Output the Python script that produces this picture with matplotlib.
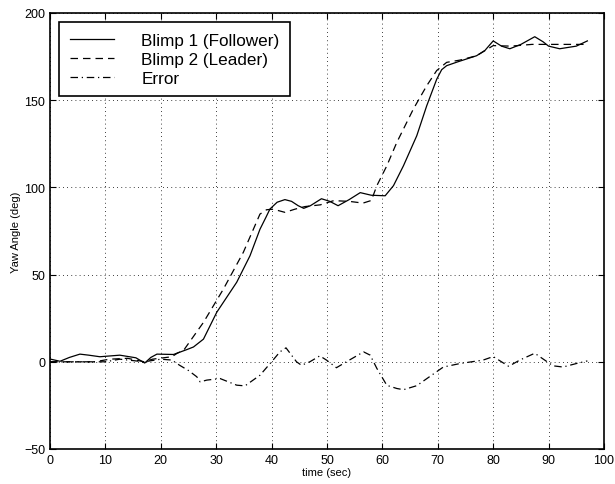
import matplotlib
matplotlib.use("Agg")
import matplotlib.pyplot as plt

plt.rcParams['font.family'] = ['Liberation Sans', 'DejaVu Sans']

# Blimp 1 (Follower)
follower_t = [0, 1.8, 3.5, 5.4, 7, 9, 12.6, 15.5, 17.1, 18.2, 19.3, 22.3, 24.7, 25.9, 27.7, 30.1, 33.7, 36.1,
              37.9, 39.0, 39.7, 41.0, 42.4, 43.6, 44.8, 45.8, 47, 49, 50.5, 52, 54, 56, 58,
              60.5, 62.0, 63.8, 66.2, 68.0, 69.8, 70.7, 71.6, 73.6, 77, 78.5, 80, 81.5, 83, 85, 87.5,
              89, 90, 92, 95, 97]
follower_y = [1.6, 0.3, 2.5, 4.4, 3.8, 2.9, 3.8, 2.3, -0.7, 2.5, 4.4, 4.2, 7, 8.5, 13, 28.4, 45.6, 60.8,
              76, 83, 87.6, 91.5, 93, 92, 89.5, 88, 89.5, 93.5, 92, 89.5, 93, 97, 95.5,
              95.2, 101, 112.4, 129.6, 146.8, 162, 167.5, 169.8, 172, 175.5, 178.5, 184, 181, 179.5, 182, 186.4,
              183.5, 181, 179.5, 181, 184]

# Blimp 2 (Leader)
leader_t = [0, 5, 8, 10.8, 14, 17, 18.5, 22, 23.0, 24.1, 27.7, 31.3, 34.9, 37.9, 39.1, 40.3,
            42.4, 44.2, 46, 48.8, 51.2, 54, 56.5, 58, 59.0, 60.8, 62.6, 65.6, 68, 69.8,
            71.6, 74, 77, 80, 83.2, 87, 90, 93, 97]
leader_y = [0, 0, 0, 1.5, 2, 0, 1.5, 2.9, 5.0, 6.5, 22.6, 41.7, 62.8, 84.7, 87.2, 87.5,
            85.7, 87.5, 89, 90, 92.4, 92, 91, 92.5, 101, 112.4, 125.8, 145, 158.3, 167,
            171.7, 173, 175.5, 181.3, 181, 182, 182, 182, 182]

# Error
error_t = [0, 5, 10, 12.6, 17, 20, 22, 23.4, 25, 26.5, 27.1, 28.3, 30.7, 33.7, 35.2, 37.9,
           40, 41.5, 42.6, 44.5, 45.4, 46.9, 48.7, 49.9, 51.7, 53.5, 56.6, 57.8, 59,
           60.8, 62.6, 63.8, 66.2, 69.2, 71, 74, 78.2, 80, 82.8, 84.8, 87.5, 90.8, 92.6,
           95, 97]
error_y = [0, 0, 0, 1.5, 0, 1.5, 1, -2, -5, -8.6, -11.5, -10.5, -9.6, -13.4, -13.8, -7.7,
           0, 5.7, 8, 0, -2, 0, 3.4, 1, -3.4, 0, 5.7, 3.8, -3.8,
           -13.5, -15.3, -16, -13.7, -7, -3, -1, 1, 3, -2.6, 1, 4.9, -2.3, -3,
           -1, 0.5]

xticks = [0, 10, 20, 30, 40, 50, 60, 70, 80, 90, 100]
yticks = [-50, 0, 50, 100, 150, 200]

fig = plt.figure(figsize=(6.15, 4.85), dpi=100)
ax = fig.add_axes([50 / 615, 35 / 485, 554 / 615, 436 / 485])

ax.plot(follower_t, follower_y, color='black', linewidth=0.9, linestyle='-',
        label='Blimp 1 (Follower)')
ax.plot(leader_t, leader_y, color='black', linewidth=0.9, linestyle=(0, (6, 4)),
        label='Blimp 2 (Leader)')
ax.plot(error_t, error_y, color='black', linewidth=0.9, linestyle=(0, (6, 3, 1, 3)),
        label='Error')

ax.set_xlim(0, 100)
ax.set_ylim(-50, 200)
ax.set_xticks(xticks)
ax.set_yticks(yticks)
ax.set_yticklabels(['\u221250' if v < 0 else str(v) for v in yticks])
ax.tick_params(direction='in', top=True, right=True, labelsize=9, length=4, width=0.8)
ax.grid(True, color='black', linestyle=(0, (1, 4)), linewidth=0.6)
for s in ax.spines.values():
    s.set_linewidth(1.2)

ax.set_xlabel('time (sec)', fontsize=8, labelpad=1)
ax.set_ylabel('Yaw Angle (deg)', fontsize=8, labelpad=2)

leg = ax.legend(loc='upper left', fontsize=12.3, frameon=True, fancybox=False,
                edgecolor='black', framealpha=1, handlelength=2.6, handletextpad=1.6,
                borderpad=0.6, labelspacing=0.25, borderaxespad=0.55)
leg.get_frame().set_linewidth(1.2)

fig.savefig('out.png', dpi=100)
